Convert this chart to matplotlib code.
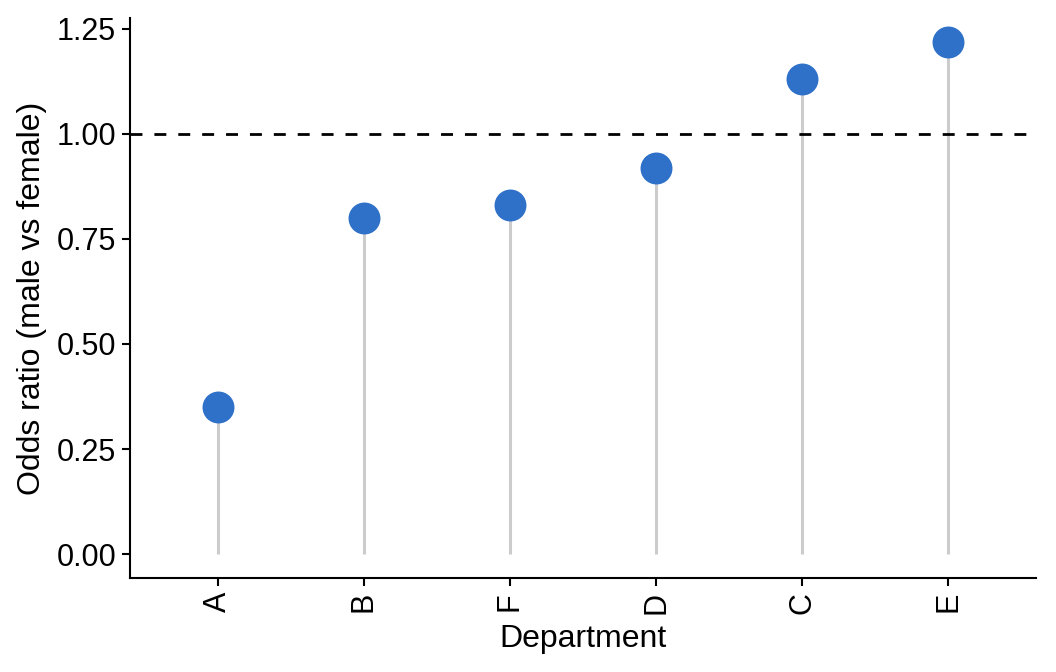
import matplotlib
matplotlib.use('Agg')
from matplotlib import pyplot as plt

departments = ['A', 'B', 'F', 'D', 'C', 'E']
odds_ratio = [0.35, 0.80, 0.83, 0.92, 1.13, 1.22]
y_ticks = [0.00, 0.25, 0.50, 0.75, 1.00, 1.25]

plt.rcParams['font.family'] = ['Liberation Sans', 'DejaVu Sans']

fig = plt.figure(figsize=(10.56, 6.72), dpi=100)
ax = fig.add_axes([0.1231, 0.1399, 0.8579, 0.8333])

x = range(len(departments))
ax.vlines(x, 0, odds_ratio, color='#cccccc', linewidth=2.2, zorder=1)
ax.axhline(1, color='black', linestyle=(0, (4.3, 4.3)), linewidth=2, zorder=2)
ax.plot(x, odds_ratio, 'o', color='#2f70c8', markersize=23,
        markeredgewidth=0, zorder=3)

ax.set_xlim(-0.6, len(departments) - 1 + 0.6)
ax.set_ylim(-0.057, 1.276)
ax.set_xticks(list(x))
ax.set_xticklabels(departments, rotation=90, fontsize=22)
ax.set_yticks(y_ticks)
ax.set_yticklabels(['%.2f' % v for v in y_ticks], fontsize=22)

for side in ['top', 'right']:
    ax.spines[side].set_visible(False)
for side in ['left', 'bottom']:
    ax.spines[side].set_linewidth(1.5)
ax.tick_params(width=1.5, length=6, pad=4, color='black', labelcolor='black')

ax.set_xlabel('Department', fontsize=23, labelpad=7)
ax.set_ylabel('Odds ratio (male vs female)', fontsize=23, labelpad=7)

fig.savefig('out.png', dpi=100)
